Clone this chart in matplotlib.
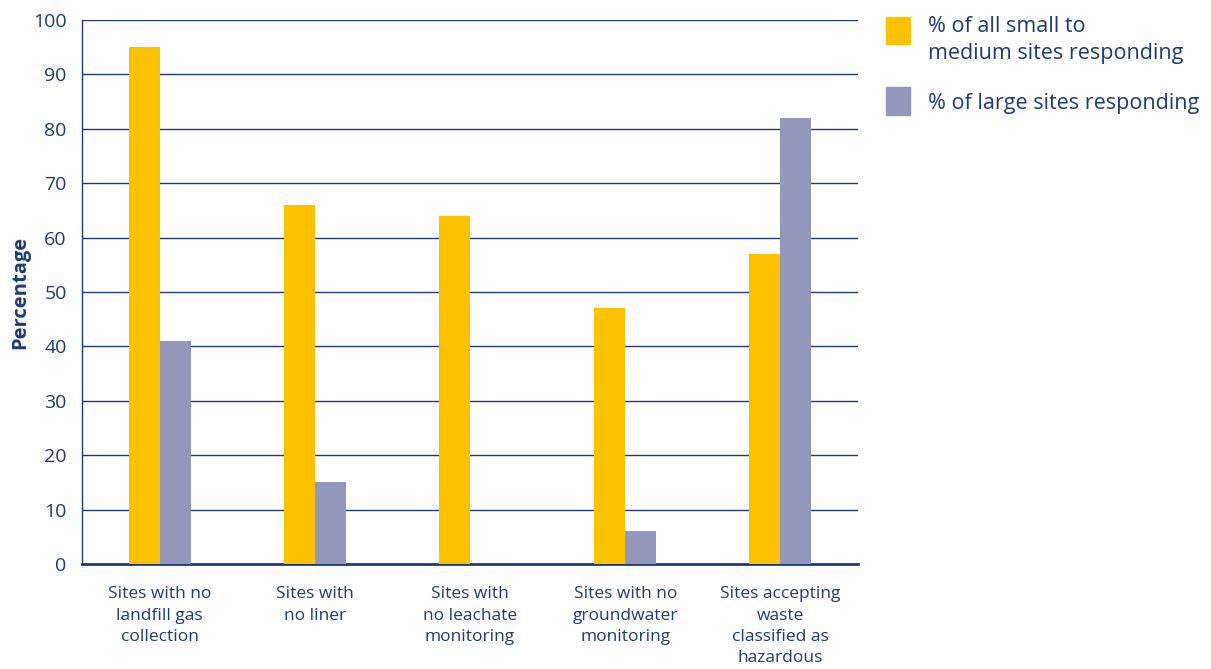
import numpy as np
import matplotlib.pyplot as plt
from matplotlib.patches import Rectangle

plt.rcParams['font.family'] = ['Open Sans', 'DejaVu Sans']

categories = ['Sites with no\nlandfill gas\ncollection', 'Sites with\nno liner',
              'Sites with\nno leachate\nmonitoring', 'Sites with no\ngroundwater\nmonitoring',
              'Sites accepting\nwaste\nclassified as\nhazardous']
small_medium = [95, 66, 64, 47, 57]
large = [41, 15, 0, 6, 82]
legend_labels = ['% of all small to\nmedium sites responding', '% of large sites responding']

yellow = '#FCC200'
grey = '#9497BC'
navy = '#1F3A75'

fig = plt.figure(figsize=(12.11, 6.69), dpi=100)
ax = fig.add_axes([0.0677, 0.157, 0.6408, 0.813])

x = np.arange(len(categories))
w = 0.2
ax.bar(x - w / 2, small_medium, w, color=yellow, zorder=3)
ax.bar(x + w / 2, large, w, color=grey, zorder=3)

ax.set_xlim(-0.5, 4.5)
ax.set_ylim(0, 100)
ax.set_yticks(range(0, 101, 10))
ax.yaxis.grid(True, color=navy, linewidth=1, zorder=0)
ax.set_axisbelow(True)
for s in ['top', 'right']:
    ax.spines[s].set_visible(False)
ax.spines['left'].set_color(navy)
ax.spines['bottom'].set_color(navy)
ax.spines['bottom'].set_linewidth(2)
ax.spines['left'].set_linewidth(1)

ax.set_xticks(x)
ax.set_xticklabels(categories, fontsize=12.5, color=navy, linespacing=1.45)
ax.tick_params(axis='x', length=0, pad=16)
ax.tick_params(axis='y', length=0, pad=11, labelsize=14, labelcolor=navy)
ax.set_ylabel('Percentage', fontsize=14.5, fontweight='bold', color=navy, labelpad=2)

# legend drawn by hand
fig.add_artist(Rectangle((886 / 1211, 1 - 44 / 669), 24 / 1211, 27 / 669,
                         transform=fig.transFigure, color=yellow))
fig.add_artist(Rectangle((886 / 1211, 1 - 115 / 669), 24 / 1211, 28 / 669,
                         transform=fig.transFigure, color=grey))
fig.text(928 / 1211, 1 - 16 / 669, legend_labels[0], fontsize=15.5, color=navy,
         va='top', linespacing=1.35)
fig.text(928 / 1211, 1 - 103 / 669, legend_labels[1], fontsize=15.5, color=navy,
         va='center')

fig.savefig('out.png', dpi=100)
